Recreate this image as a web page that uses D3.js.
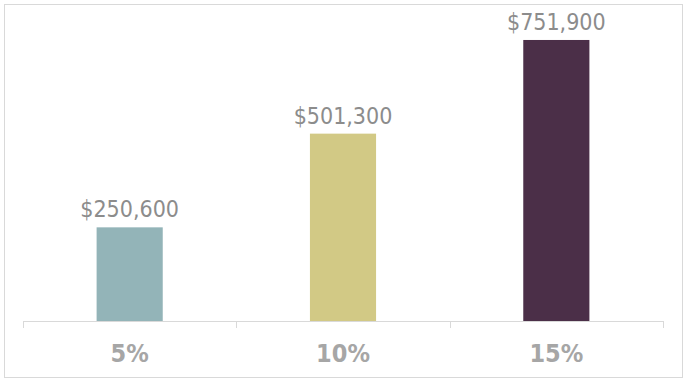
<!DOCTYPE html>
<html>
<head>
<meta charset="utf-8">
<script src="https://cdn.jsdelivr.net/npm/d3@7"></script>
<style>
  body { margin: 0; background: #fff; }
  svg { display: block; font-family: "DejaVu Sans Condensed", "DejaVu Sans", Verdana, sans-serif; font-stretch: condensed; }
</style>
</head>
<body>
<div id="chart"></div>
<script>
// chart data
var categories = ["5%", "10%", "15%"];
var values = [250600, 501300, 751900];
var colors = ["#93b4b8", "#d2c985", "#4b2f48"];

var W = 687, H = 388;
var svg = d3.select("#chart").append("svg").attr("width", W).attr("height", H);

// outer frame
svg.append("rect").attr("x", 4.5).attr("y", 4.5).attr("width", 678).attr("height", 373)
    .attr("fill", "#fff").attr("stroke", "#d9d9d9").attr("stroke-width", 1);

var x = d3.scaleBand().domain(categories).range([23, 663]).paddingInner(0.69).paddingOuter(0.345);
var y = d3.scaleLinear().domain([0, 800000]).range([321, 22]);

var fmt = d3.format("$,");

svg.selectAll("rect.bar").data(values).enter().append("rect")
    .attr("class", "bar")
    .attr("x", function(d, i) { return x(categories[i]); })
    .attr("y", function(d) { return y(d); })
    .attr("width", x.bandwidth())
    .attr("height", function(d) { return y(0) - y(d); })
    .attr("fill", function(d, i) { return colors[i]; });

svg.selectAll("text.val").data(values).enter().append("text")
    .attr("class", "val")
    .attr("x", function(d, i) { return x(categories[i]) + x.bandwidth() / 2; })
    .attr("y", function(d) { return y(d) - 10; })
    .attr("text-anchor", "middle")
    .attr("fill", "#8c8c8c")
    .style("font-size", "23px")
    .text(function(d) { return fmt(d); });

// category axis with ticks between bands
var axisG = svg.append("g");
axisG.append("line").attr("x1", 23).attr("x2", 663).attr("y1", 321.5).attr("y2", 321.5)
    .attr("stroke", "#d9d9d9");
d3.range(categories.length + 1).forEach(function(i) {
    var tx = Math.round(23 + i * (640 / categories.length)) + 0.5;
    axisG.append("line").attr("x1", tx).attr("x2", tx).attr("y1", 321).attr("y2", 328)
        .attr("stroke", "#d9d9d9");
});
axisG.selectAll("text").data(categories).enter().append("text")
    .attr("x", function(d) { return x(d) + x.bandwidth() / 2; })
    .attr("y", 362)
    .attr("text-anchor", "middle")
    .attr("fill", "#a6a6a6")
    .style("font-size", "25px")
    .style("font-weight", "bold")
    .text(function(d) { return d; });
</script>
</body>
</html>
